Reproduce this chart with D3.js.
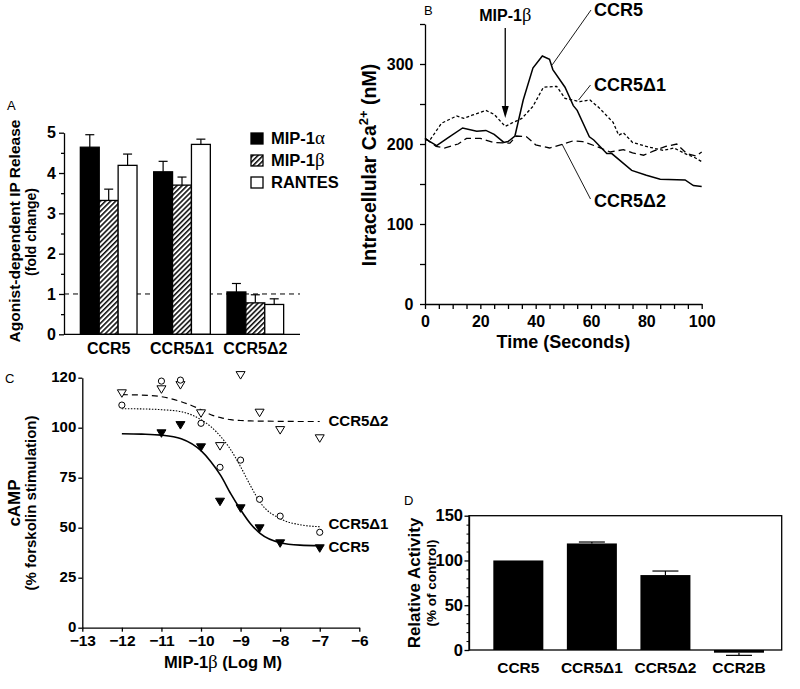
<!DOCTYPE html>
<html><head><meta charset="utf-8">
<script src="https://cdn.jsdelivr.net/npm/d3@7"></script>
<style>body{margin:0;background:#fff}svg{display:block}text{font-family:"Liberation Sans",Arial,Helvetica,sans-serif}</style>
</head><body><script>
// ---------- Panel A data ----------
const aCategories = ["CCR5", "CCR5Δ1", "CCR5Δ2"];
const aSeries = ["MIP-1α", "MIP-1β", "RANTES"];
const aMip1a = [4.64, 4.03, 1.05];
const aMip1aErr = [4.95, 4.29, 1.26];
const aMip1b = [3.32, 3.70, 0.78];
const aMip1bErr = [3.60, 3.90, 0.98];
const aRantes = [4.19, 4.71, 0.74];
const aRantesErr = [4.47, 4.84, 0.88];
const aYTicks = [0, 1, 2, 3, 4, 5];
const aYMinor = [0.5, 1.5, 2.5, 3.5, 4.5];
const aBaseline = 1;

// ---------- Panel B data ----------
const bCcr5Time = [0, 1.8, 4.2, 8, 13.6, 18.7, 22, 25, 28.5, 30, 32.5, 35.5, 39, 42.4, 45, 46.2, 50.6, 53.6, 55, 59.4, 61, 65.7, 67.5, 74.7, 80, 85, 94, 97, 100];
const bCcr5Ca = [207, 203, 198, 207, 220, 216, 217, 212, 202, 203, 210, 255, 295, 310, 306, 293, 271, 248, 242, 209, 205, 188, 188, 167, 161, 156, 155, 148, 147];
const bD1Time = [0, 2, 6, 11.4, 14, 17, 22, 25, 29, 31.3, 35, 39, 42.8, 47.6, 50.6, 56, 59.6, 63, 68, 70, 71.7, 75, 80, 86, 90, 94.6, 97, 100];
const bD1Ca = [205, 206, 226, 235, 232, 236, 242, 237, 222, 226, 232, 247, 271, 272, 257, 253, 255, 245, 227, 211, 214, 202, 197, 192, 195, 187, 184, 178];
const bD2Time = [0, 4, 7, 12, 15, 20, 24.7, 30.7, 33, 36.7, 40, 45, 50, 53.6, 57, 62, 67, 71.7, 75, 79, 82.5, 87, 91, 94.6, 98, 100];
const bD2Ca = [207, 197, 195, 200, 207, 207, 202, 201, 210, 209, 199, 195, 200, 204, 203, 197, 190, 193, 189, 186, 191, 197, 200, 188, 185, 190];
const bXTicks = [0, 20, 40, 60, 80, 100];
const bYTicks = [0, 100, 200, 300];
const bStimTime = 29;

// ---------- Panel C data ----------
const cCcr5Dose = [-11, -10.52, -10, -9.52, -9, -8.52, -8, -7];
const cCcr5 = [97.2, 101.3, 90.2, 63, 59.7, 49.7, 42.2, 39.7];
const cD1Dose = [-12, -11, -10.52, -10, -9.52, -9, -8.52, -8, -7];
const cD1 = [111.3, 123.3, 123.8, 102.2, 80.2, 83.8, 64.2, 55.8, 47.7];
const cD2Dose = [-12, -11, -10.52, -10, -9.52, -9, -8.52, -8, -7];
const cD2 = [117.2, 119.2, 121.3, 107.2, 90.8, 126.3, 107.5, 98.8, 94.7];
const cFitDose = [-12, -11.5, -11, -10.5, -10, -9.75, -9.5, -9.25, -9, -8.75, -8.5, -8, -7.5, -7];
const cCcr5Fit = [97, 96.8, 96.3, 94.5, 88.5, 83, 76, 67, 59, 52, 47, 42.5, 41.3, 41];
const cD1Fit = [109.5, 109.4, 109, 108, 104, 100.5, 95.5, 89, 80.5, 71, 62.5, 54.5, 51.5, 50.5];
const cD2Fit = [116.5, 116.3, 115.5, 113, 109, 106.5, 105, 104, 103.6, 103.4, 103.3, 103.2, 103.1, 103.1];
const cXTicks = [-13, -12, -11, -10, -9, -8, -7, -6];
const cYTicks = [0, 25, 50, 75, 100, 125];
const cYTickLabels = ["0", "25", "50", "75", "100", "120"];

// ---------- Panel D data ----------
const dCategories = ["CCR5", "CCR5Δ1", "CCR5Δ2", "CCR2B"];
const dValues = [100, 119, 83.7, -3];
const dErr = [null, 120.6, 88.2, -6];
const dYTicks = [0, 50, 100, 150];

// ---------- helpers ----------
const FONT = '"Liberation Sans", Arial, Helvetica, sans-serif';
const SERIF = '"Liberation Serif", "Times New Roman", serif';
function rich(sel, str) {
  const parts = str.split(/([αβ])/).filter(s => s.length);
  parts.forEach(p => {
    const t = sel.append("tspan").text(p);
    if (/[αβ]/.test(p)) t.attr("font-family", SERIF).attr("font-weight", "normal").attr("font-size", "1.15em");
  });
  return sel;
}
function styleAxis(g, size) {
  g.attr("font-family", FONT).attr("font-size", size).attr("font-weight", "bold");
  g.selectAll("path,line").attr("stroke", "#000").attr("stroke-width", 1.3);
}

const svg = d3.select("body").append("svg").attr("width", 800).attr("height", 689);
const defs = svg.append("defs");
const pat = defs.append("pattern").attr("id", "hatch").attr("patternUnits", "userSpaceOnUse")
  .attr("width", 3.6).attr("height", 3.6).attr("patternTransform", "rotate(45)");
pat.append("rect").attr("width", 3.6).attr("height", 3.6).attr("fill", "#fff");
pat.append("line").attr("x1", 0.8).attr("y1", 0).attr("x2", 0.8).attr("y2", 3.6).attr("stroke", "#000").attr("stroke-width", 1.5);

// ================= PANEL A =================
{
  const yA = d3.scaleLinear().domain([0, 5]).range([334.3, 132.7]);
  const xA = d3.scaleBand().domain(aCategories).range([64, 300]).paddingInner(0.227).paddingOuter(0.223);
  const xInner = d3.scaleBand().domain(aSeries).range([0, xA.bandwidth()]);
  const vals = [aMip1a, aMip1b, aRantes];
  const errs = [aMip1aErr, aMip1bErr, aRantesErr];
  const fills = ["#000", "url(#hatch)", "#fff"];
  const g = svg.append("g");

  g.append("line").attr("x1", xA.range()[0]).attr("x2", xA.range()[1])
    .attr("y1", yA(aBaseline)).attr("y2", yA(aBaseline))
    .attr("stroke", "#000").attr("stroke-width", 1).attr("stroke-dasharray", "5,4");

  aSeries.forEach((s, si) => {
    aCategories.forEach((c, ci) => {
      const x0 = xA(c) + xInner(s), w = xInner.bandwidth(), cx = x0 + w / 2;
      g.append("line").attr("x1", cx).attr("x2", cx).attr("y1", yA(vals[si][ci])).attr("y2", yA(errs[si][ci]))
        .attr("stroke", "#000").attr("stroke-width", 1.2);
      g.append("line").attr("x1", cx - 4.5).attr("x2", cx + 4.5).attr("y1", yA(errs[si][ci])).attr("y2", yA(errs[si][ci]))
        .attr("stroke", "#000").attr("stroke-width", 1.2);
      g.append("rect").attr("x", x0).attr("y", yA(vals[si][ci])).attr("width", w)
        .attr("height", yA(0) - yA(vals[si][ci])).attr("fill", fills[si])
        .attr("stroke", "#000").attr("stroke-width", 1.3);
    });
  });

  g.append("line").attr("x1", 64).attr("x2", xA.range()[1]).attr("y1", yA(0)).attr("y2", yA(0))
    .attr("stroke", "#000").attr("stroke-width", 1.3);

  const ax = g.append("g").attr("transform", "translate(64,0)")
    .call(d3.axisLeft(yA).tickValues(aYTicks).tickSize(5).tickPadding(3).tickSizeOuter(0).tickFormat(d3.format("d")));
  styleAxis(ax, 16);
  const axm = g.append("g").attr("transform", "translate(64,0)")
    .call(d3.axisLeft(yA).tickValues(aYMinor).tickSize(3).tickFormat(""));
  styleAxis(axm, 16); axm.select(".domain").remove();

  aCategories.forEach(c => {
    g.append("text").attr("x", xA(c) + xA.bandwidth() / 2).attr("y", 353.5).attr("text-anchor", "middle")
      .attr("font-size", 16).attr("font-weight", "bold").text(c);
  });

  const legFill = ["#000", "url(#hatch)", "#fff"];
  const legY = [133, 155, 177];
  aSeries.forEach((s, i) => {
    g.append("rect").attr("x", 251).attr("y", legY[i]).attr("width", 12).attr("height", 11)
      .attr("fill", legFill[i]).attr("stroke", "#000").attr("stroke-width", 1.3);
    rich(g.append("text").attr("x", 271).attr("y", legY[i] + 11).attr("font-size", 16.5).attr("font-weight", "bold"), s);
  });

  g.append("text").attr("transform", "translate(19.5,231) rotate(-90)").attr("text-anchor", "middle")
    .attr("font-size", 15.5).attr("font-weight", "bold").text("Agonist-dependent IP Release");
  g.append("text").attr("transform", "translate(35.5,232) rotate(-90)").attr("text-anchor", "middle")
    .attr("font-size", 14).attr("font-weight", "bold").text("(fold change)");
  g.append("text").attr("x", 7).attr("y", 110).attr("font-size", 13).text("A");
}

// ================= PANEL B =================
{
  const xB = d3.scaleLinear().domain([0, 100]).range([425, 701.7]);
  const yB = d3.scaleLinear().domain([0, 350]).range([304, 24]);
  const g = svg.append("g");
  const line = d3.line().x(d => xB(d[0])).y(d => yB(d[1]));
  const mk = (t, v) => t.map((x, i) => [x, v[i]]);

  g.append("path").attr("d", line(mk(bD2Time, bD2Ca))).attr("fill", "none").attr("stroke", "#000")
    .attr("stroke-width", 1.3).attr("stroke-dasharray", "7,4");
  g.append("path").attr("d", line(mk(bD1Time, bD1Ca))).attr("fill", "none").attr("stroke", "#000")
    .attr("stroke-width", 1.3).attr("stroke-dasharray", "3,2.2");
  g.append("path").attr("d", line(mk(bCcr5Time, bCcr5Ca))).attr("fill", "none").attr("stroke", "#000")
    .attr("stroke-width", 1.5);

  const ax = g.append("g").attr("transform", "translate(0,304)")
    .call(d3.axisBottom(xB).tickValues(d3.range(0, 101, 5)).tickSize(5).tickPadding(7).tickSizeOuter(0)
      .tickFormat(d => bXTicks.includes(d) ? d : ""));
  styleAxis(ax, 16);
  const ay = g.append("g").attr("transform", "translate(425,0)")
    .call(d3.axisLeft(yB).tickValues(d3.range(0, 351, 50)).tickSize(5).tickPadding(6.5).tickSizeOuter(0)
      .tickFormat(d => bYTicks.includes(d) ? d : ""));
  styleAxis(ay, 16);

  g.append("text").attr("x", xB(50)).attr("y", 347.5).attr("text-anchor", "middle")
    .attr("font-size", 18).attr("font-weight", "bold").text("Time (Seconds)");
  const yl = g.append("text").attr("transform", "translate(376,165) rotate(-90)").attr("text-anchor", "middle")
    .attr("font-size", 19.5).attr("font-weight", "bold");
  yl.append("tspan").text("Intracellular Ca");
  yl.append("tspan").attr("dy", -8).attr("font-size", 13).text("2+");
  yl.append("tspan").attr("dy", 8).text(" (nM)");

  const ax0 = xB(bStimTime);
  g.append("line").attr("x1", ax0).attr("x2", ax0).attr("y1", 28).attr("y2", 108).attr("stroke", "#000").attr("stroke-width", 1.3);
  g.append("path").attr("d", `M${ax0 - 3.5},106 L${ax0 + 3.5},106 L${ax0},118 Z`).attr("fill", "#000");
  rich(g.append("text").attr("x", ax0).attr("y", 21).attr("text-anchor", "middle").attr("font-size", 16).attr("font-weight", "bold"), "MIP-1β");

  const labs = [
    { t: "CCR5", x: 594, y: 16, lx1: 591, ly1: 10, lx2: xB(46), ly2: yB(299) },
    { t: "CCR5Δ1", x: 594, y: 91, lx1: 590.5, ly1: 85, lx2: xB(55.5), ly2: yB(255) },
    { t: "CCR5Δ2", x: 594, y: 207, lx1: 590.5, ly1: 199, lx2: xB(49.5), ly2: yB(200) }
  ];
  labs.forEach(l => {
    g.append("line").attr("x1", l.lx1).attr("y1", l.ly1).attr("x2", l.lx2).attr("y2", l.ly2).attr("stroke", "#000").attr("stroke-width", 0.9);
    g.append("text").attr("x", l.x).attr("y", l.y).attr("font-size", 18).attr("font-weight", "bold").text(l.t);
  });
  g.append("text").attr("x", 424).attr("y", 15).attr("font-size", 13).text("B");
}

// ================= PANEL C =================
{
  const xC = d3.scaleLinear().domain([-13, -6]).range([82.3, 359.3]);
  const yC = d3.scaleLinear().domain([0, 125]).range([627.7, 377.7]);
  const g = svg.append("g");
  const line = d3.line().x(d => xC(d[0])).y(d => yC(d[1])).curve(d3.curveMonotoneX);
  const mk = (t, v) => t.map((x, i) => [x, v[i]]);

  g.append("path").attr("d", line(mk(cFitDose, cD2Fit))).attr("fill", "none").attr("stroke", "#000").attr("stroke-width", 1.2).attr("stroke-dasharray", "6,4");
  g.append("path").attr("d", line(mk(cFitDose, cD1Fit))).attr("fill", "none").attr("stroke", "#000").attr("stroke-width", 1.1).attr("stroke-dasharray", "1.5,1.5");
  g.append("path").attr("d", line(mk(cFitDose, cCcr5Fit))).attr("fill", "none").attr("stroke", "#000").attr("stroke-width", 1.6);

  const tri = (x, y) => `M${x - 4.5},${y - 3.5} L${x + 4.5},${y - 3.5} L${x},${y + 4} Z`;
  cD2Dose.forEach((d, i) => g.append("path").attr("d", tri(xC(d), yC(cD2[i]))).attr("fill", "#fff").attr("stroke", "#000").attr("stroke-width", 1));
  cD1Dose.forEach((d, i) => g.append("circle").attr("cx", xC(d)).attr("cy", yC(cD1[i])).attr("r", 3.1).attr("fill", "#fff").attr("stroke", "#000").attr("stroke-width", 1));
  cCcr5Dose.forEach((d, i) => g.append("path").attr("d", tri(xC(d), yC(cCcr5[i]))).attr("fill", "#000").attr("stroke", "#000").attr("stroke-width", 1));

  const ax = g.append("g").attr("transform", "translate(0,627.7)")
    .call(d3.axisBottom(xC).tickValues(cXTicks).tickSize(4).tickPadding(3).tickSizeOuter(0).tickFormat(d3.format("d")));
  styleAxis(ax, 15.5);
  const ay = g.append("g").attr("transform", "translate(82.3,0)")
    .call(d3.axisLeft(yC).tickValues(cYTicks).tickSize(4).tickPadding(2).tickSizeOuter(0)
      .tickFormat((d, i) => cYTickLabels[i]));
  styleAxis(ay, 15);
  ay.selectAll(".tick text").attr("dy", "0.28em");

  [["CCR5Δ2", 425.5], ["CCR5Δ1", 529], ["CCR5", 551.5]].forEach(([t, y]) => {
    g.append("text").attr("x", 328.5).attr("y", y).attr("font-size", 15).attr("font-weight", "bold").text(t);
  });
  rich(g.append("text").attr("x", 223).attr("y", 668).attr("text-anchor", "middle").attr("font-size", 16.5).attr("font-weight", "bold"), "MIP-1β (Log M)");
  g.append("text").attr("transform", "translate(20,503) rotate(-90)").attr("text-anchor", "middle")
    .attr("font-size", 17).attr("font-weight", "bold").text("cAMP");
  g.append("text").attr("transform", "translate(36,503) rotate(-90)").attr("text-anchor", "middle")
    .attr("font-size", 15).attr("font-weight", "bold").text("(% forskolin stimulation)");
  g.append("text").attr("x", 5).attr("y", 383).attr("font-size", 13).text("C");
}

// ================= PANEL D =================
{
  const yD = d3.scaleLinear().domain([0, 150]).range([650, 515.7]);
  const xD = d3.scaleBand().domain(dCategories).range([475.3, 782]).paddingInner(0.32).paddingOuter(0.245);
  const g = svg.append("g");
  g.append("rect").attr("x", 469).attr("y", yD(150)).attr("width", 781.7 - 469).attr("height", yD(0) - yD(150))
    .attr("fill", "none").attr("stroke", "#000").attr("stroke-width", 1.3);

  dCategories.forEach((c, i) => {
    const x0 = xD(c), w = xD.bandwidth(), cx = x0 + w / 2;
    if (dErr[i] !== null) {
      g.append("line").attr("x1", cx).attr("x2", cx).attr("y1", yD(dValues[i])).attr("y2", yD(dErr[i])).attr("stroke", "#000").attr("stroke-width", 1.2);
      g.append("line").attr("x1", cx - 13).attr("x2", cx + 13).attr("y1", yD(dErr[i])).attr("y2", yD(dErr[i])).attr("stroke", "#000").attr("stroke-width", 1.2);
    }
    g.append("rect").attr("x", x0).attr("y", Math.min(yD(dValues[i]), yD(0))).attr("width", w)
      .attr("height", Math.abs(yD(0) - yD(dValues[i]))).attr("fill", "#000");
    g.append("text").attr("x", cx).attr("y", 672.5).attr("text-anchor", "middle")
      .attr("font-size", 15.5).attr("font-weight", "bold").text(c);
  });

  const ay = g.append("g").attr("transform", "translate(469,0)")
    .call(d3.axisLeft(yD).tickValues(dYTicks).tickSize(4.5).tickPadding(1.5).tickSizeOuter(0));
  styleAxis(ay, 16.5);
  const aym = g.append("g").attr("transform", "translate(469,0)")
    .call(d3.axisLeft(yD).tickValues(d3.range(10, 150, 10).filter(v => v % 50)).tickSize(2.5).tickFormat(""));
  styleAxis(aym, 16); aym.select(".domain").remove();
  aym.selectAll("line").attr("stroke-width", 1);

  g.append("text").attr("transform", "translate(420,583) rotate(-90)").attr("text-anchor", "middle")
    .attr("font-size", 17).attr("font-weight", "bold").text("Relative Activity");
  g.append("text").attr("transform", "translate(436,583) rotate(-90)").attr("text-anchor", "middle")
    .attr("font-size", 13.5).attr("font-weight", "bold").text("(% of control)");
  g.append("text").attr("x", 404).attr("y", 505).attr("font-size", 13).text("D");
}
</script></body></html>
